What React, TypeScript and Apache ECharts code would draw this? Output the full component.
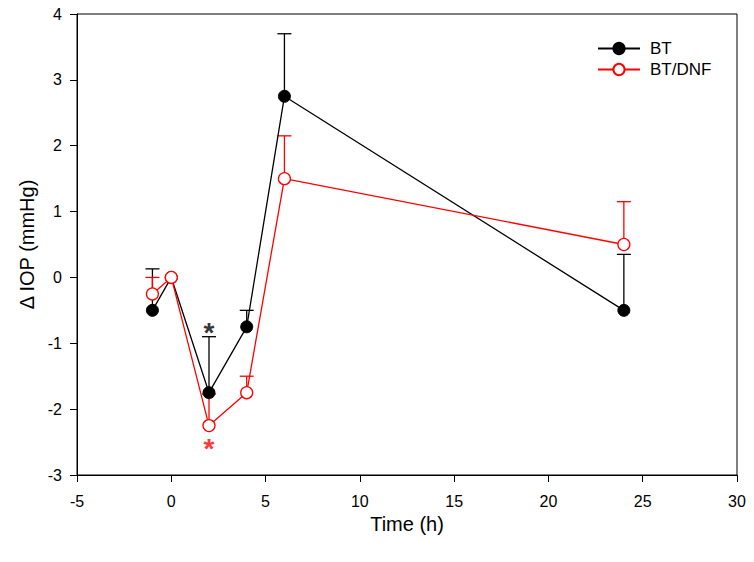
import React, { useEffect, useRef } from "react";
import * as echarts from "echarts";

const timesBT = [-1, 0, 2, 4, 6, 24];
const meanBT = [-0.5, 0, -1.75, -0.75, 2.75, -0.5];
const upperBT = [0.13, 0, -0.9, -0.5, 3.7, 0.35];

const timesDNF = [-1, 0, 2, 4, 6, 24];
const meanDNF = [-0.25, 0, -2.25, -1.75, 1.5, 0.5];
const upperDNF = [0.0, 0, -1.77, -1.5, 2.15, 1.15];

const starBT = [[2, -0.75]];
const starDNF = [[2, -2.5]];

const FONT = "Liberation Sans, Arial, sans-serif";

function errorSeries(times: number[], means: number[], uppers: number[], color: string) {
  return {
    type: "custom",
    z: 1,
    silent: true,
    data: times.map((t, i) => [t, means[i], uppers[i]]),
    renderItem: (params: any, api: any) => {
      const x = api.value(0);
      const p0 = api.coord([x, api.value(1)]);
      const p1 = api.coord([x, api.value(2)]);
      if (Math.abs(p0[1] - p1[1]) < 0.5) return { type: "group", children: [] };
      const hw = 7;
      return {
        type: "group",
        children: [
          { type: "line", shape: { x1: p0[0], y1: p0[1], x2: p1[0], y2: p1[1] }, style: { stroke: color, lineWidth: 1.3 } },
          { type: "line", shape: { x1: p1[0] - hw, y1: p1[1], x2: p1[0] + hw, y2: p1[1] }, style: { stroke: color, lineWidth: 1.3 } },
        ],
      };
    },
  };
}

export default function App() {
  const ref = useRef<HTMLDivElement>(null);
  useEffect(() => {
    const chart = echarts.init(ref.current!, null, { renderer: "svg" });
    chart.setOption({
      animation: false,
      backgroundColor: "#fff",
      grid: { left: 77, right: 17, top: 14, bottom: 87, show: true, borderColor: "#000", borderWidth: 1 },
      legend: {
        orient: "vertical",
        left: 597,
        top: 40,
        padding: 0,
        itemWidth: 42,
        itemHeight: 14,
        itemGap: 4,
        textStyle: { fontFamily: FONT, fontSize: 17, color: "#000", padding: [0, 0, 0, 5] },
        data: ["BT", "BT/DNF"],
      },
      xAxis: {
        type: "value",
        min: -5,
        max: 30,
        interval: 5,
        name: "Time (h)",
        nameLocation: "middle",
        nameGap: 39,
        nameTextStyle: { fontFamily: FONT, fontSize: 20, color: "#000" },
        axisLine: { show: true, onZero: false, lineStyle: { color: "#000", width: 1 } },
        axisTick: { show: true, inside: false, length: 7, lineStyle: { color: "#000" } },
        axisLabel: { fontFamily: FONT, fontSize: 16, color: "#000", margin: 18 },
        splitLine: { show: false },
      },
      yAxis: {
        type: "value",
        min: -3,
        max: 4,
        interval: 1,
        name: "\u0394 IOP (mmHg)",
        nameLocation: "middle",
        nameGap: 37,
        nameRotate: 90,
        nameTextStyle: { fontFamily: FONT, fontSize: 20, color: "#000" },
        axisLine: { show: true, onZero: false, lineStyle: { color: "#000", width: 1 } },
        axisTick: { show: true, inside: false, length: 7, lineStyle: { color: "#000" } },
        axisLabel: { fontFamily: FONT, fontSize: 16, color: "#000", margin: 15 },
        splitLine: { show: false },
      },
      series: [
        errorSeries(timesBT, meanBT, upperBT, "#000"),
        errorSeries(timesDNF, meanDNF, upperDNF, "#ff0000"),
        {
          name: "BT",
          type: "line",
          z: 3,
          data: timesBT.map((t, i) => [t, meanBT[i]]),
          symbol: "circle",
          symbolSize: 12,
          lineStyle: { color: "#000", width: 1.3 },
          itemStyle: { color: "#000", borderColor: "#000", borderWidth: 1 },
        },
        {
          name: "BT/DNF",
          type: "line",
          z: 4,
          data: timesDNF.map((t, i) => [t, meanDNF[i]]),
          symbol: "circle",
          symbolSize: 12,
          lineStyle: { color: "#ff0000", width: 1.3 },
          itemStyle: { color: "#fff", borderColor: "#ff0000", borderWidth: 1.3 },
        },
        {
          type: "scatter",
          silent: true,
          data: starBT,
          symbolSize: 0,
          label: { show: true, position: "inside", formatter: "*", fontFamily: FONT, fontSize: 28, fontWeight: "bold", color: "#000", offset: [0, 6] },
        },
        {
          type: "scatter",
          silent: true,
          data: starDNF,
          symbolSize: 0,
          label: { show: true, position: "inside", formatter: "*", fontFamily: FONT, fontSize: 28, fontWeight: "bold", color: "#ff0000", offset: [0, 6] },
        },
      ],
    });
    return () => chart.dispose();
  }, []);
  return <div ref={ref} style={{ width: 754, height: 562, position: "absolute", left: 0, top: 0 }} />;
}
